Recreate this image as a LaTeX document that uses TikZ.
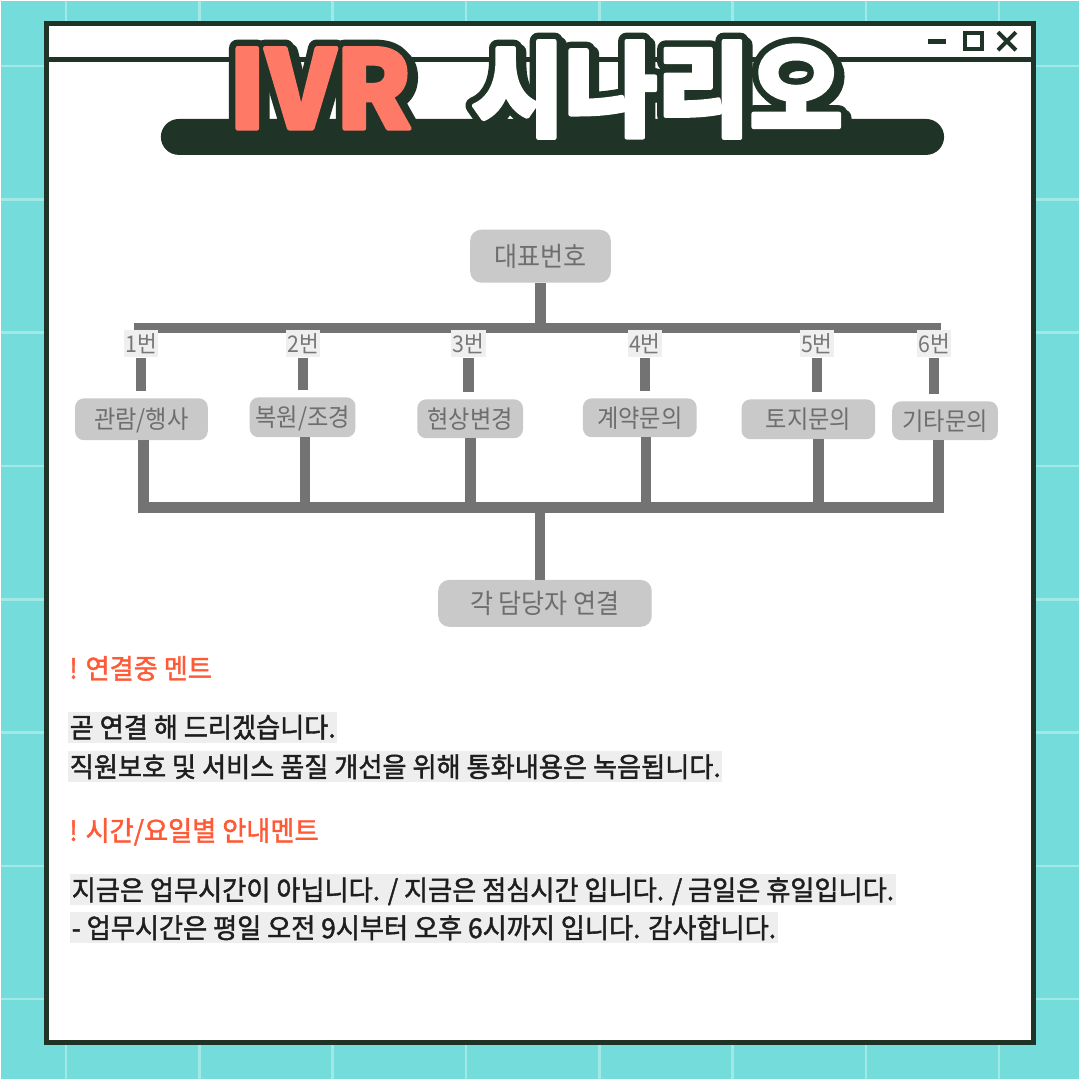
\documentclass[tikz,border=0pt]{standalone}
\usepackage{fontspec}
\setmainfont{Noto Sans CJK KR}
\newfontfamily\ivrfont{Noto Sans CJK KR}[FakeStretch=1.0, BoldFeatures={FakeBold=4}]
\newfontfamily\ivrout{Noto Sans CJK KR}[FakeStretch=1.0, BoldFeatures={FakeBold=16}]
\newfontfamily\hanfont{Noto Sans CJK KR}[FakeStretch=0.98, BoldFeatures={FakeBold=4}]
\newfontfamily\hanout{Noto Sans CJK KR}[FakeStretch=0.98, BoldFeatures={FakeBold=16.5}]
\newfontfamily\diagfont{Noto Sans CJK KR}[FakeStretch=0.93]
\newfontfamily\bodyfont{Noto Sans CJK KR}[FakeStretch=0.955, FakeBold=1.5]
\definecolor{bgteal}{HTML}{74DCDA}
\definecolor{gridc}{HTML}{A2E9E6}
\definecolor{darkc}{HTML}{1F3326}
\definecolor{coralc}{HTML}{FF7A66}
\definecolor{boxc}{HTML}{C9C9C9}
\definecolor{boxtext}{HTML}{6E6E6E}
\definecolor{linec}{HTML}{737373}
\definecolor{lblbg}{HTML}{EFEFEF}
\definecolor{lbltext}{HTML}{777777}
\definecolor{orangec}{HTML}{FF5A36}
\definecolor{bodybg}{HTML}{EEEEEE}
\definecolor{bodytext}{HTML}{1E1E1E}
\begin{document}
\begin{tikzpicture}[x=1pt,y=-1pt,
  conn/.style={draw=linec, line width=10.5},
  box/.style={fill=boxc, rounded corners=9, text=boxtext, inner sep=0, text height=21, text depth=1.8, font=\diagfont\fontsize{25}{25}\selectfont},
  bigbox/.style={box, rounded corners=11, text height=22.4, text depth=1.9, font=\diagfont\fontsize{27}{27}\selectfont},
  lbl/.style={fill=lblbg, text=lbltext, inner xsep=1.5, inner ysep=0, minimum height=27, text height=19, text depth=1.6, font=\diagfont\fontsize{23}{23}\selectfont},
  head/.style={anchor=west, text=orangec, inner sep=0, text height=23, text depth=2, font=\bodyfont\fontsize{27.5}{27.5}\selectfont},
  body/.style={anchor=west, fill=bodybg, text=bodytext, inner xsep=1.5, inner ysep=0, minimum height=31, text height=23, text depth=2, font=\bodyfont\fontsize{27.5}{27.5}\selectfont},
  ivrt/.style={inner sep=0, text height=79, text depth=0, line join=round, font=\ivrfont\bfseries\fontsize{108}{108}\selectfont},
  ivro/.style={ivrt, font=\ivrout\bfseries\fontsize{108}{108}\selectfont},
  hant/.style={inner sep=0, text height=86.5, text depth=7.6, line join=round, font=\hanfont\bfseries\fontsize{103}{103}\selectfont},
  hano/.style={hant, font=\hanout\bfseries\fontsize{103}{103}\selectfont}
]
% background and grid
\fill[bgteal] (0,0) rectangle (1080,1080);
\foreach \k in {0,...,7}{
  \draw[gridc, line width=2.5] ({65+133.6*\k},0) -- ({65+133.6*\k},1080);
  \draw[gridc, line width=2.5] (0,{65+133.6*\k}) -- (1080,{65+133.6*\k});
}
\path[use as bounding box] (0,0) rectangle (1080,1080);
% window frame
\draw[darkc, line width=5, fill=white] (45.5,22.5) rectangle (1034.5,1043.5);
\draw[darkc, line width=5] (43,58.5) -- (1037,58.5);
\fill[darkc] (929,38) rectangle (947,43);
\draw[darkc, line width=4] (966,32) rectangle (983,48);
\draw[darkc, line width=4] (999,31) -- (1017,49);
\draw[darkc, line width=4] (1017,31) -- (999,49);
% title pill
\fill[darkc, rounded corners=18] (160,118) rectangle (945,154);
% title text: shadow, outline, fill
\coordinate (ivrc) at (319.5,88);
\coordinate (hanc) at (657.5,87.5);
\node[ivro, text=darkc] (ivrs) at ([shift={(4,4)}]ivrc) {IVR};
\node[hano, text=darkc] (hans) at ([shift={(4,4)}]hanc) {시나리오};
\node[ivro, text=darkc] (ivro) at (ivrc) {IVR};
\node[hano, text=darkc] (hano) at (hanc) {시나리오};
\node[ivrt, text=coralc] (ivr) at (ivrc) {IVR};
\node[hant, text=white] (han) at (hanc) {시나리오};
% diagram
\node[bigbox, minimum width=141, minimum height=53] (dae) at (540.5,255.5) {대표번호};
\coordinate (busTL) at (133,327.5);
\coordinate (busTR) at (942,327.5);
\draw[conn] (dae.south) -- (dae.south |- busTL);
\draw[conn] (busTL) -- (busTR);
\node[lbl] (l1) at (140,343.5) {1번};
\node[lbl] (l2) at (302.5,343.5) {2번};
\node[lbl] (l3) at (468.5,343.5) {3번};
\node[lbl] (l4) at (645,343.5) {4번};
\node[lbl] (l5) at (817.5,343.5) {5번};
\node[lbl] (l6) at (935,343.5) {6번};
\node[box, minimum width=133, minimum height=42] (b1) at (140.5,419) {관람/행사};
\node[box, minimum width=106, minimum height=40] (b2) at (302,417) {복원/조경};
\node[box, minimum width=106, minimum height=39] (b3) at (470,418.5) {현상변경};
\node[box, minimum width=114, minimum height=39] (b4) at (640,417.5) {계약문의};
\node[box, minimum width=134, minimum height=40] (b5) at (809,419) {토지문의};
\node[box, minimum width=106, minimum height=39] (b6) at (946,420.5) {기타문의};
\foreach \i in {1,...,6}{
  \draw[conn, shorten >=7] (l\i.south) -- (l\i.south |- b\i.north);
}
\coordinate (d1) at (142.5,507.5);
\coordinate (d2) at (304.5,507.5);
\coordinate (d3) at (470.5,507.5);
\coordinate (d4) at (646.5,507.5);
\coordinate (d5) at (819,507.5);
\coordinate (d6) at (939.5,507.5);
\foreach \i in {1,...,6}{
  \draw[conn] (b\i.south -| d\i) -- ([yshift=-5.25]d\i);
}
\coordinate (busBL) at (137,507.5);
\coordinate (busBR) at (945,507.5);
\draw[conn] (busBL) -- (busBR);
\node[bigbox, minimum width=214, minimum height=47] (out) at (545,603.5) {각 담당자 연결};
\coordinate (cdown) at (540,507.5);
\draw[conn] (cdown) -- (cdown |- out.north);
% messages
\node[head] (h1) at (68,668.5) {! 연결중 멘트};
\node[body] (t1) at (67,727.5) {곧 연결 해 드리겠습니다.};
\node[body] (t2) at (67,767) {직원보호 및 서비스 품질 개선을 위해 통화내용은 녹음됩니다.};
\node[head] (h2) at (68,831) {! 시간/요일별 안내멘트};
\node[body] (t3) at (69,890.5) {지금은 업무시간이 아닙니다. / 지금은 점심시간 입니다. / 금일은 휴일입니다.};
\node[body] (t4) at (69,928.5) {- 업무시간은 평일 오전 9시부터 오후 6시까지 입니다. 감사합니다.};
\end{tikzpicture}
\end{document}
